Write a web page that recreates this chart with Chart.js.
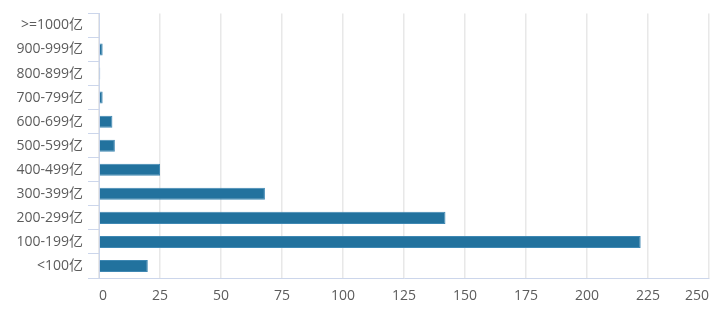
<!DOCTYPE html>
<html lang="zh">
<head>
    <meta charset="UTF-8">
    <title>区间分布</title>
    <script src="https://cdn.jsdelivr.net/npm/chart.js"></script>
    <style>
        html, body { margin: 0; padding: 0; background: #fff; }
        #wrap { width: 719px; height: 312px; }
    </style>
</head>
<body>
    <div id="wrap"><canvas id="bar-chart" width="719" height="312"></canvas></div>
    <script>
        // 从下到上的分组
        const categories = ['<100亿', '100-199亿', '200-299亿', '300-399亿', '400-499亿',
            '500-599亿', '600-699亿', '700-799亿', '800-899亿', '900-999亿', '>=1000亿'];
        const counts = [20, 222, 142, 68, 25, 6.5, 5.5, 1.5, 0.5, 1.5, 0];
        const xTicks = [0, 25, 50, 75, 100, 125, 150, 175, 200, 225, 250];

        const fontFamily = '"Open Sans", "Noto Sans CJK SC", sans-serif';
        const ctx = document.getElementById('bar-chart').getContext('2d');
        new Chart(ctx, {
            type: 'bar',
            data: {
                labels: categories,
                datasets: [{
                    data: counts,
                    backgroundColor: '#22729e',
                    borderColor: '#3f88b3',
                    borderWidth: 1,
                    barPercentage: 0.5,
                    categoryPercentage: 1
                }]
            },
            options: {
                indexAxis: 'y',
                responsive: false,
                animation: false,
                layout: { padding: { top: 8, right: 9, left: 0, bottom: 0 } },
                plugins: { legend: { display: false }, tooltip: { enabled: false } },
                scales: {
                    x: {
                        min: 0,
                        max: 250,
                        afterBuildTicks: s => { s.ticks = xTicks.map(v => ({ value: v })); },
                        afterFit: s => { s.height = 34; },
                        grid: { color: '#e8e8e8', lineWidth: 1.5, drawTicks: false },
                        border: { color: '#ccd6eb', width: 1 },
                        ticks: {
                            align: 'inner',
                            padding: 10,
                            color: '#5c5c5c',
                            font: { family: fontFamily, size: 14 }
                        }
                    },
                    y: {
                        reverse: true,
                        afterFit: s => { s.width = 99; },
                        grid: { drawOnChartArea: false, color: '#ccd6eb', tickLength: 11 },
                        border: { color: '#ccd6eb', width: 1 },
                        ticks: {
                            padding: 5,
                            color: '#5c5c5c',
                            font: { family: fontFamily, size: 14 }
                        }
                    }
                }
            }
        });
    </script>
</body>
</html>
